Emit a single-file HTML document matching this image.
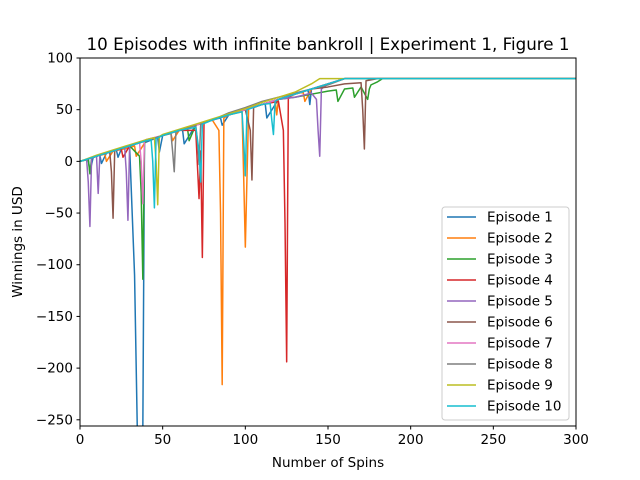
<!DOCTYPE html>
<html><head><meta charset="utf-8"><style>
html,body{margin:0;padding:0;overflow:hidden;background:#fff;font-family:"DejaVu Sans","Liberation Sans",sans-serif;width:640px;height:480px;}
svg{display:block;}
</style></head><body>
<svg id="chart" width="640" height="480" xmlns="http://www.w3.org/2000/svg" style="overflow:hidden">
<defs><clipPath id="clip"><rect x="80" y="58" width="496" height="368"/></clipPath></defs>
<rect width="640" height="480" fill="#fff"/>
<text x="328" y="50" text-anchor="middle" font-size="16.7">10 Episodes with infinite bankroll | Experiment 1, Figure 1</text>
<g id="series" clip-path="url(#clip)"></g>
<rect x="80" y="58" width="496" height="368" fill="none" stroke="#000" stroke-width="1"/>
<g id="axes"></g>
<text x="328" y="467" text-anchor="middle" font-size="13.5">Number of Spins</text>
<text x="22" y="242" text-anchor="middle" font-size="13.5" transform="rotate(-90 22 242)">Winnings in USD</text>
<g id="legend"></g>
</svg>
<script>
const xTicks=[0,50,100,150,200,250,300];
const yTicks=[100,50,0,-50,-100,-150,-200,-250];
const names=["Episode 1","Episode 2","Episode 3","Episode 4","Episode 5","Episode 6","Episode 7","Episode 8","Episode 9","Episode 10"];
const colors=["#1f77b4","#ff7f0e","#2ca02c","#d62728","#9467bd","#8c564b","#e377c2","#7f7f7f","#bcbd22","#17becf"];
const ep1x=[0,5,6,8,12,13,16,20,22,23,25,30,33,35,37,38,39,45,47,48,50,60,62,63,70,80,85,86,90,100,110,112,113,120,130,138,139,140,150,160,300];
const ep1y=[0,2,-10,4,6,-2,8,10,11,4,12,15,-110,-290,-290,-260,18,22,23,9,25,30,31,17,35,40,42,35,45,50,55,56,42,60,65,69,55,70,75,80,80];
const ep2x=[0,10,15,16,20,30,33,34,40,50,55,56,60,70,80,84,85,86,87,90,98,99,100,101,102,110,118,119,120,130,135,136,140,150,160,300];
const ep2y=[0,5,7,0,10,13,15,5,20,25,27,20,30,35,40,30,-50,-216,42,45,48,-15,-83,-15,51,55,59,45,60,65,67,58,70,75,80,80];
const ep3x=[0,5,6,7,10,20,30,36,37,38,39,40,50,60,65,66,70,80,90,100,110,120,130,140,150,155,156,160,165,166,170,174,175,176,180,183,300];
const ep3y=[0,2,-12,3,5,10,15,5,-30,-114,18,20,25,30,32,20,35,40,45,50,55,60,62,65,68,69,58,70,71,62,72,60,70,74,77,80,80];
const ep4x=[0,10,20,25,26,30,40,50,60,70,72,73,74,75,80,90,100,110,120,123,124,125,126,130,140,150,160,300];
const ep4y=[0,5,10,12,4,15,20,25,30,30,-36,10,-93,37,40,45,50,55,58,30,-60,-194,62,65,70,75,80,80];
const ep5x=[0,4,5,6,7,10,11,12,20,27,28,29,30,40,50,60,70,80,90,100,110,120,130,140,143,144,145,146,150,160,300];
const ep5y=[0,2,-20,-63,3,5,-31,6,10,14,-10,-57,15,20,25,30,35,40,45,50,55,60,62,66,60,30,5,70,75,80,80];
const ep6x=[0,10,18,19,20,21,30,40,50,60,70,80,90,100,103,104,105,110,120,130,140,150,160,170,171,172,173,180,300];
const ep6y=[0,5,9,-10,-55,11,15,20,25,30,35,40,45,50,30,-18,52,55,60,65,70,72,75,76,50,12,78,80,80];
const ep7x=[0,10,20,30,36,37,38,39,40,50,60,70,80,90,100,110,120,130,140,150,160,300];
const ep7y=[0,5,10,15,18,0,-41,20,21,25,30,35,40,45,50,55,60,65,70,75,80,80];
const ep8x=[0,10,20,30,40,50,55,56,57,58,60,70,71,72,73,80,90,100,110,120,130,140,150,160,300];
const ep8y=[0,5,10,15,20,25,27,10,-10,28,30,35,20,-3,36,40,47,52,58,62,66,70,74,80,80];
const ep9x=[0,10,20,30,40,45,46,47,48,50,60,70,80,90,100,110,120,130,140,145,300];
const ep9y=[0,6,11,16,21,23,0,-42,24,26,31,36,41,46,51,57,62,67,75,80,80];
const ep10x=[0,10,20,30,40,43,44,45,46,50,60,70,72,73,74,80,90,98,99,100,101,110,115,116,117,118,120,130,140,150,160,300];
const ep10y=[0,5,10,15,20,21,0,-45,22,25,30,33,10,-20,36,40,45,48,20,-14,50,55,56,40,26,58,60,65,70,75,80,80];
const xs=[ep1x,ep2x,ep3x,ep4x,ep5x,ep6x,ep7x,ep8x,ep9x,ep10x];
const ys=[ep1y,ep2y,ep3y,ep4y,ep5y,ep6y,ep7y,ep8y,ep9y,ep10y];
const NS="http://www.w3.org/2000/svg";
const sx=v=>80+(v-0)/300*496;
const sy=v=>58+(100-v)/356*368;
const series=document.getElementById('series');
for(let i=0;i<10;i++){
  const p=document.createElementNS(NS,'polyline');
  p.setAttribute('points',xs[i].map((x,j)=>sx(x)+','+sy(ys[i][j])).join(' '));
  p.setAttribute('fill','none');p.setAttribute('stroke',colors[i]);p.setAttribute('stroke-width','1.5');p.setAttribute('stroke-linejoin','round');
  
  
  series.appendChild(p);
}
const axes=document.getElementById('axes');
xTicks.forEach(t=>{
  const l=document.createElementNS(NS,'line');
  l.setAttribute('x1',sx(t));l.setAttribute('x2',sx(t));l.setAttribute('y1',426);l.setAttribute('y2',429.5);l.setAttribute('stroke','#000');
  
  
  axes.appendChild(l);
  const tx=document.createElementNS(NS,'text');
  tx.setAttribute('x',sx(t));tx.setAttribute('y',444);tx.setAttribute('text-anchor','middle');tx.setAttribute('font-size','13.5');tx.textContent=t;
  
  
  axes.appendChild(tx);
});
yTicks.forEach(t=>{
  const l=document.createElementNS(NS,'line');
  l.setAttribute('x1',76.5);l.setAttribute('x2',80);l.setAttribute('y1',sy(t));l.setAttribute('y2',sy(t));l.setAttribute('stroke','#000');
  
  
  axes.appendChild(l);
  const tx=document.createElementNS(NS,'text');
  tx.setAttribute('x',73);tx.setAttribute('y',sy(t)+4.5);tx.setAttribute('text-anchor','end');tx.setAttribute('font-size','13.5');tx.textContent=t===0?'0':(t<0?'\u2212'+(-t):t);
  
  
  axes.appendChild(tx);
});
const lg=document.getElementById('legend');
const box=document.createElementNS(NS,'rect');
box.setAttribute('x',442);box.setAttribute('y',207);box.setAttribute('width',127);box.setAttribute('height',213);box.setAttribute('rx',3);
box.setAttribute('fill','#fff');box.setAttribute('fill-opacity','0.8');box.setAttribute('stroke','#ccc');


lg.appendChild(box);
names.forEach((n,i)=>{
  const y=217+i*21;
  const g=document.createElementNS(NS,'g');
  
  
  const l=document.createElementNS(NS,'line');
  l.setAttribute('x1',447);l.setAttribute('x2',476);l.setAttribute('y1',y);l.setAttribute('y2',y);l.setAttribute('stroke',colors[i]);l.setAttribute('stroke-width','1.5');
  g.appendChild(l);
  const t=document.createElementNS(NS,'text');
  t.setAttribute('x',487);t.setAttribute('y',y+4.5);t.setAttribute('font-size','13.5');t.textContent=n;
  g.appendChild(t);
  lg.appendChild(g);
});
</script>
</body></html>
